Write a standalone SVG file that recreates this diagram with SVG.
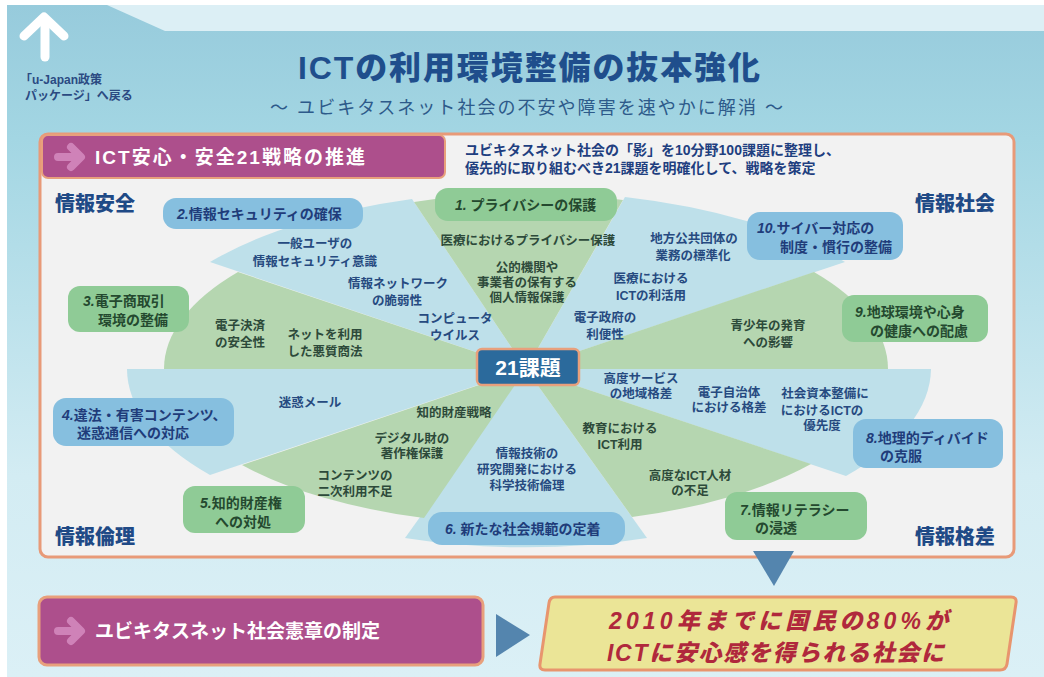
<svg xmlns="http://www.w3.org/2000/svg" width="1044" height="677" viewBox="0 0 1044 677">
<defs>
<linearGradient id="bg" x1="0" y1="0" x2="0" y2="1">
<stop offset="0" stop-color="#97cbdc"/>
<stop offset="0.2" stop-color="#a3d6e3"/>
<stop offset="0.7" stop-color="#d3ecf3"/>
<stop offset="1" stop-color="#dbf0f6"/>
</linearGradient>
<style>
text{font-family:"Liberation Sans","Noto Sans CJK JP",sans-serif;font-weight:bold}
.sg{fill:#b5d6b0}
.sb{fill:#bee0ea}
.bg{fill:#8fcb96}
.bb{fill:#86bfdf}
.tg{fill:#24492f;font-size:14px}
.tb{fill:#1f3c7a;font-size:14px}
.num{font-style:italic}
.ig{fill:#2d4a3a;font-size:12.5px;text-anchor:middle}
.ib{fill:#264a80;font-size:12.5px;text-anchor:middle}
.corner{fill:#1f4a86;font-size:20px;font-weight:900}
.wt{fill:#ffffff}
.arr{fill:none;stroke:#cf82b8;stroke-width:8;stroke-linecap:round;stroke-linejoin:round}
</style>
</defs>
<rect width="1044" height="677" fill="#ffffff"/>
<rect x="7" y="5" width="1037" height="672" fill="url(#bg)"/>
<polygon points="107,5 1044,5 1044,31 165,31" fill="#dceff5"/>

<g id="back-link">
<polyline points="24,36 44,17 64,36" fill="none" stroke="#ffffff" stroke-width="9" stroke-linecap="round" stroke-linejoin="round"/>
<line x1="45" y1="20" x2="45" y2="57" stroke="#ffffff" stroke-width="9" stroke-linecap="round"/>
<text font-size="12" fill="#2b4a82"><tspan x="20" y="84">「u-Japan政策</tspan><tspan x="25" y="100">パッケージ」へ戻る</tspan></text>
</g>

<g id="title">
<text x="298" y="79" font-size="32" fill="#1f4e8c" style="font-weight:900" textLength="462" lengthAdjust="spacing">ICTの利用環境整備の抜本強化</text>
<text x="270" y="114" font-size="18" fill="#2d5a8a" textLength="513" lengthAdjust="spacing" style="font-weight:normal">〜 ユビキタスネット社会の不安や障害を速やかに解消 〜</text>
</g>

<g id="panel">
<rect x="40" y="134" width="974" height="423" rx="8" fill="#f2f2f2" stroke="#e89a78" stroke-width="3"/>
</g>

<g id="header">
<rect x="42" y="135" width="403" height="43" rx="6" fill="#ad4f8c" stroke="#e8a07c" stroke-width="2"/>
<path class="arr" d="M58,157 H80 M71,147 L81,157 L71,167"/>
<text x="95" y="164" font-size="19" class="wt" textLength="270" lengthAdjust="spacing">ICT安心・安全21戦略の推進</text>
</g>

<g id="description">
<text font-size="14" fill="#1f3f80"><tspan x="465" y="155">ユビキタスネット社会の「影」を10分野100課題に整理し、</tspan><tspan x="465" y="173">優先的に取り組むべき21課題を明確化して、戦略を策定</tspan></text>
</g>

<g id="sectors">
<path class="sb" d="M526,369 L625,197 A401 177 0 0 1 845,262 Z"/>
<path class="sb" d="M526,369 L931,369 A405 176 0 0 1 846,476 Z"/>
<path class="sb" d="M526,369 L647,538 A380 180 0 0 1 405,538 Z"/>
<path class="sb" d="M526,369 L210,475 A399 174 0 0 1 127,369 Z"/>
<path class="sb" d="M526,369 L210,262 A401 177 0 0 1 412,199 Z"/>
<path class="sg" d="M526,369 L414,202 A360 175 0 0 1 623,200 Z"/>
<path class="sg" d="M526,369 L814,272 A362 160 0 0 1 888,369 Z"/>
<path class="sg" d="M526,369 L811,464 A362 155 0 0 1 632,517 Z"/>
<path class="sg" d="M526,369 L424,518 A362 155 0 0 1 242,465 Z"/>
<path class="sg" d="M526,369 L164,369 A362 160 0 0 1 238,272 Z"/>
</g>

<g id="sector-texts">
<text class="ig" x="528" y="245">医療におけるプライバシー保護</text>
<text class="ig"><tspan x="527" y="272">公的機関や</tspan><tspan x="527" y="287">事業者の保有する</tspan><tspan x="527" y="302">個人情報保護</tspan></text>
<text class="ib"><tspan x="694" y="243">地方公共団体の</tspan><tspan x="693" y="260">業務の標準化</tspan></text>
<text class="ib"><tspan x="651" y="283">医療における</tspan><tspan x="651" y="300">ICTの利活用</tspan></text>
<text class="ib"><tspan x="605" y="322">電子政府の</tspan><tspan x="605" y="339">利便性</tspan></text>
<text class="ig"><tspan x="768" y="330">青少年の発育</tspan><tspan x="768" y="347">への影響</tspan></text>
<text class="ib"><tspan x="315" y="248">一般ユーザの</tspan><tspan x="315" y="266">情報セキュリティ意識</tspan></text>
<text class="ib"><tspan x="398" y="288">情報ネットワーク</tspan><tspan x="397" y="305">の脆弱性</tspan></text>
<text class="ib"><tspan x="455" y="323">コンピュータ</tspan><tspan x="455" y="340">ウイルス</tspan></text>
<text class="ig"><tspan x="240" y="330">電子決済</tspan><tspan x="240" y="347">の安全性</tspan></text>
<text class="ig"><tspan x="325" y="339">ネットを利用</tspan><tspan x="325" y="356">した悪質商法</tspan></text>
<text class="ib"><tspan x="641" y="383">高度サービス</tspan><tspan x="641" y="398">の地域格差</tspan></text>
<text class="ib"><tspan x="729" y="397">電子自治体</tspan><tspan x="729" y="412">における格差</tspan></text>
<text class="ib"><tspan x="825" y="398">社会資本整備に</tspan><tspan x="822" y="415">におけるICTの</tspan><tspan x="822" y="430">優先度</tspan></text>
<text class="ib" x="310" y="407">迷惑メール</text>
<text class="ig" x="454" y="417">知的財産戦略</text>
<text class="ig"><tspan x="412" y="443">デジタル財の</tspan><tspan x="412" y="458">著作権保護</tspan></text>
<text class="ig"><tspan x="355" y="480">コンテンツの</tspan><tspan x="355" y="496">二次利用不足</tspan></text>
<text class="ib"><tspan x="527" y="458">情報技術の</tspan><tspan x="527" y="474">研究開発における</tspan><tspan x="527" y="490">科学技術倫理</tspan></text>
<text class="ig"><tspan x="620" y="433">教育における</tspan><tspan x="620" y="449">ICT利用</tspan></text>
<text class="ig"><tspan x="690" y="480">高度なICT人材</tspan><tspan x="690" y="495">の不足</tspan></text>
</g>

<g id="label-1"><rect class="bg" x="435" y="188" width="182" height="33" rx="13"/><text class="tg" x="455" y="210"><tspan class="num">1.</tspan> プライバシーの保護</text></g>
<g id="label-2"><rect class="bb" x="163" y="198" width="200" height="31" rx="13"/><text class="tb" x="177" y="219"><tspan class="num">2.</tspan>情報セキュリティの確保</text></g>
<g id="label-3"><rect class="bg" x="68" y="286" width="121" height="46" rx="12"/><text class="tg"><tspan x="83" y="306" class="num">3.</tspan><tspan>電子商取引</tspan><tspan x="98" y="325">環境の整備</tspan></text></g>
<g id="label-4"><rect class="bb" x="53" y="398" width="181" height="48" rx="13"/><text class="tb"><tspan x="62" y="420" class="num">4.</tspan><tspan>違法・有害コンテンツ、</tspan><tspan x="77" y="438">迷惑通信への対応</tspan></text></g>
<g id="label-5"><rect class="bg" x="183" y="486" width="122" height="47" rx="12"/><text class="tg"><tspan x="200" y="508" class="num">5.</tspan><tspan>知的財産権</tspan><tspan x="215" y="527">への対処</tspan></text></g>
<g id="label-6"><rect class="bb" x="428" y="512" width="197" height="33" rx="14"/><text class="tb" x="445" y="534"><tspan class="num">6.</tspan> 新たな社会規範の定着</text></g>
<g id="label-7"><rect class="bg" x="725" y="492" width="142" height="48" rx="12"/><text class="tg"><tspan x="740" y="515" class="num">7.</tspan><tspan>情報リテラシー</tspan><tspan x="755" y="533">の浸透</tspan></text></g>
<g id="label-8"><rect class="bb" x="853" y="419" width="150" height="49" rx="13"/><text class="tb"><tspan x="866" y="443" class="num">8.</tspan><tspan>地理的ディバイド</tspan><tspan x="880" y="461">の克服</tspan></text></g>
<g id="label-9"><rect class="bg" x="842" y="295" width="146" height="47" rx="12"/><text class="tg"><tspan x="855" y="317" class="num">9.</tspan><tspan>地球環境や心身</tspan><tspan x="870" y="336">の健康への配慮</tspan></text></g>
<g id="label-10"><rect class="bb" x="747" y="212" width="156" height="48" rx="13"/><text class="tb"><tspan x="757" y="233" class="num">10.</tspan><tspan>サイバー対応の</tspan><tspan x="780" y="252">制度・慣行の整備</tspan></text></g>

<g id="center">
<rect x="477" y="349" width="102" height="36" rx="5" fill="#2b6a9c" stroke="#e8a07c" stroke-width="2.5"/>
<text x="528" y="375" font-size="21" class="wt" text-anchor="middle">21課題</text>
</g>

<g id="corners">
<text class="corner" x="55" y="211">情報安全</text>
<text class="corner" x="915" y="211">情報社会</text>
<text class="corner" x="55" y="544">情報倫理</text>
<text class="corner" x="915" y="544">情報格差</text>
</g>

<g id="connectors">
<polygon points="753,551 794,551 774,586" fill="#5485ae"/>
<polygon points="496,614 530,635 496,657" fill="#5485ae"/>
</g>

<g id="charter">
<rect x="39" y="597" width="444" height="68" rx="8" fill="#ad4f8c" stroke="#e8a07c" stroke-width="3"/>
<path class="arr" d="M58,631 H80 M71,621 L81,631 L71,641"/>
<text x="95" y="638" font-size="19" class="wt">ユビキタスネット社会憲章の制定</text>
</g>

<g id="goal">
<path d="M555,597 L1011,597 Q1017,597 1016,603 L1007,664 Q1006,670 1000,670 L545,670 Q539,670 540,664 L549,603 Q550,597 555,597 Z" fill="#ebe597" stroke="#e8956e" stroke-width="3"/>
<text x="609" y="629" font-size="23" fill="#b0283c" font-style="italic" style="font-weight:900" textLength="339" lengthAdjust="spacing">2010年までに国民の80%が</text>
<text x="607" y="661" font-size="23" fill="#b0283c" font-style="italic" style="font-weight:900" textLength="337" lengthAdjust="spacing">ICTに安心感を得られる社会に</text>
</g>
</svg>
